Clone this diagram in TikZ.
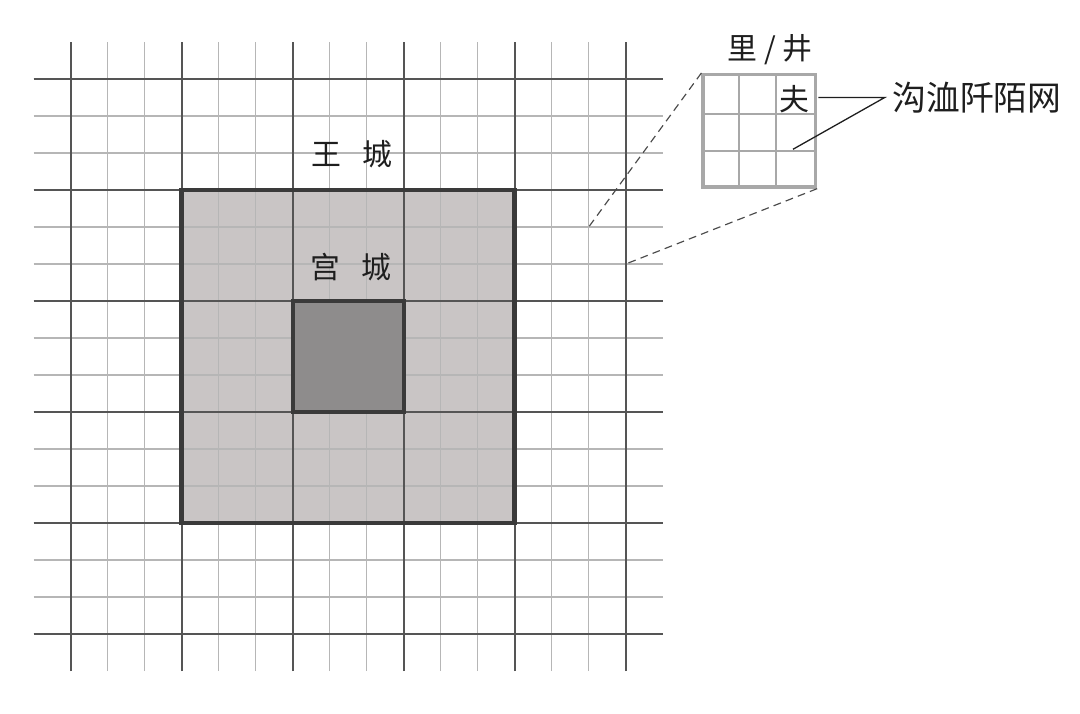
\documentclass[tikz,border=0pt]{standalone}
\usepackage{fontspec}
\setmainfont{Noto Sans CJK SC}
\usetikzlibrary{positioning}
\definecolor{majorgray}{RGB}{85,85,85}
\definecolor{minorgray}{RGB}{182,182,182}
\definecolor{wallgray}{RGB}{58,58,58}
\definecolor{wangfill}{RGB}{201,197,197}
\definecolor{gongfill}{RGB}{142,140,140}
\definecolor{insetgray}{RGB}{168,168,168}
\definecolor{inkgray}{RGB}{30,30,30}
\tikzset{
    minorline/.style = {line width = 0.8pt, minorgray},
    majorline/.style = {line width = 1.7pt, majorgray},
    cjktext/.style = {font = \fontsize{23}{23}\selectfont, text = inkgray, inner sep = 0pt},
    zoomline/.style = {line width = 0.9pt, inkgray!80, dash pattern = on 6pt off 4pt},
    leader/.style = {line width = 1pt, inkgray}
}
\begin{document}
\begin{tikzpicture}
                        \useasboundingbox (-1.911, -2.135) rectangle (27.278, 17.135);
                        \fill [wangfill] (3, 3) rectangle (12, 12);
                        \foreach \i in {0, ..., 15} {
                            \draw [minorline] (\i, -1) -- (\i, 16);
                            \draw [minorline] (-1, \i) -- (16, \i);
                        }
                        \foreach \i in {0, 3, ..., 15} {
                            \draw [majorline] (\i, -1) -- (\i, 16);
                            \draw [majorline] (-1, \i) -- (16, \i);
                        }
                        \draw [line width = 3.6pt, wallgray] (3, 3) rectangle (12, 12);
                        \draw [line width = 2.8pt, wallgray, fill = gongfill] (6, 6) rectangle (9, 9);
                        \node (wangcheng) [cjktext] at (7.6, 12.97) {王\hspace{0.7em}城};
                        \node (gongcheng) [cjktext] at (7.58, 9.92) {宫\hspace{0.7em}城};
                        % enlarged cell
                        \node (jing) [draw = insetgray, line width = 2.5pt, minimum size = 3.04cm, inner sep = 0pt] at (18.61, 13.6) {};
                        \foreach \t in {1, 2} {
                            \draw [insetgray, line width = 1.4pt] (jing.south west) ++(\t * 1.013, 0) -- ++(0, 3.04);
                            \draw [insetgray, line width = 1.4pt] (jing.south west) ++(0, \t * 1.013) -- ++(3.04, 0);
                        }
                        \node (lijing) [cjktext] at (18.9, 15.78) {里\hspace{0.22em}/\hspace{0.22em}井};
                        \node (fu) [cjktext] at (19.57, 14.46) {夫};
                        \coordinate (celltl) at (14, 11);
                        \coordinate (cellbr) at (15, 10);
                        \draw [zoomline] (jing.north west) -- (celltl);
                        \draw [zoomline] (jing.south east) -- (cellbr);
                        \coordinate (fork) at (22.0, 14.5);
                        \coordinate (road) at (19.52, 13.1);
                        \node (goulu) [cjktext, font = \fontsize{26}{26}\selectfont, right = 0.2 of fork] {沟洫阡陌网};
                        \draw [leader] ([xshift = 1pt] jing.east |- fork) -- (fork) -- (road);
                    \end{tikzpicture}
\end{document}
